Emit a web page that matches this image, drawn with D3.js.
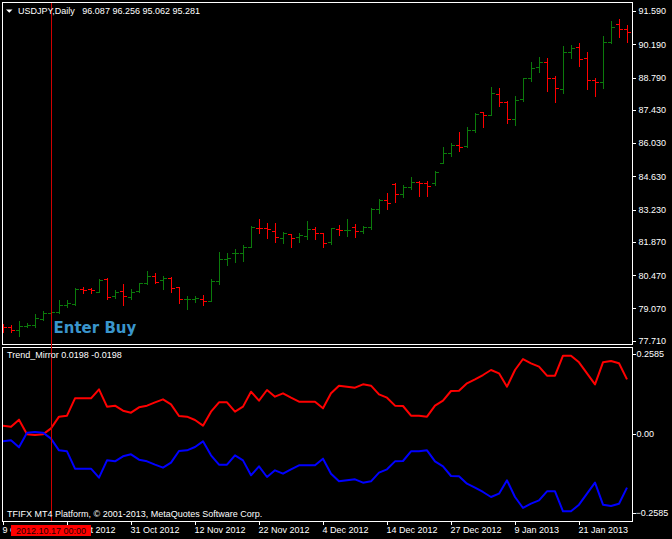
<!DOCTYPE html>
<html>
<head>
<meta charset="utf-8">
<script src="https://cdn.jsdelivr.net/npm/d3@7"></script>
<style>
  html, body { margin: 0; padding: 0; background: #000; }
  svg { display: block; }
  text { font-family: "Liberation Sans", Arial, sans-serif; font-size: 9px; fill: #fff; }
</style>
</head>
<body>
<svg id="chart" width="672" height="539"></svg>
<script>
// --- Data ---
const symbolTitle = "USDJPY,Daily";
const lastQuote = ["96.087", "96.256", "95.062", "95.281"];
const indicatorTitle = "Trend_Mirror 0.0198 -0.0198";
const footerText = "TFIFX MT4 Platform, \u00a9 2001-2013, MetaQuotes Software Corp.";
const signalText = "Enter Buy";
const cursorDate = "2012-10-17";
const cursorLabel = "2012.10.17 00:00";

const dates = [
  "2012-10-09","2012-10-10","2012-10-11","2012-10-12","2012-10-15","2012-10-16","2012-10-17","2012-10-18","2012-10-19",
  "2012-10-22","2012-10-23","2012-10-24","2012-10-25","2012-10-26","2012-10-29","2012-10-30","2012-10-31",
  "2012-11-01","2012-11-02","2012-11-05","2012-11-06","2012-11-07","2012-11-08","2012-11-09","2012-11-12",
  "2012-11-13","2012-11-14","2012-11-15","2012-11-16","2012-11-19","2012-11-20","2012-11-21","2012-11-22",
  "2012-11-23","2012-11-26","2012-11-27","2012-11-28","2012-11-29","2012-11-30","2012-12-03","2012-12-04",
  "2012-12-05","2012-12-06","2012-12-07","2012-12-10","2012-12-11","2012-12-12","2012-12-13","2012-12-14",
  "2012-12-17","2012-12-18","2012-12-19","2012-12-20","2012-12-21","2012-12-24","2012-12-26","2012-12-27",
  "2012-12-28","2012-12-31","2013-01-02","2013-01-03","2013-01-04","2013-01-07","2013-01-08","2013-01-09",
  "2013-01-10","2013-01-11","2013-01-14","2013-01-15","2013-01-16","2013-01-17","2013-01-18","2013-01-21",
  "2013-01-22","2013-01-23","2013-01-24","2013-01-25","2013-01-28","2013-01-29"
];

const opens = [
  78.30,78.27,78.16,78.33,78.37,78.61,78.89,78.93,79.21,79.24,79.90,79.87,79.77,80.29,79.59,79.80,79.53,
  79.80,80.12,80.43,80.26,80.33,79.96,79.45,79.45,79.45,79.39,80.24,81.15,81.39,81.39,81.67,82.47,
  82.44,82.33,82.05,82.19,82.09,82.12,82.41,82.23,81.86,82.43,82.36,82.48,82.31,82.48,83.25,83.63,
  84.31,83.88,84.17,84.38,84.35,84.33,85.20,85.60,85.95,85.90,86.60,87.32,87.20,88.08,87.74,87.03,
  87.87,88.76,89.25,89.43,88.76,88.32,89.85,90.06,89.60,88.69,88.59,90.30,91.04,90.82
];
const highs = [
  78.40,78.37,78.54,78.47,78.83,78.96,78.93,79.42,79.42,79.91,79.96,79.91,80.29,80.33,79.84,80.08,79.90,
  80.15,80.64,80.54,80.43,80.38,79.98,79.59,79.59,79.63,80.29,81.44,81.39,81.56,81.74,82.54,82.82,
  82.65,82.65,82.27,82.20,82.23,82.75,82.48,82.26,82.44,82.58,82.83,82.62,82.54,83.28,83.67,83.94,
  84.33,84.26,84.61,84.43,84.43,84.85,85.85,86.05,86.50,86.70,87.30,87.35,88.38,88.33,87.80,88.01,
  88.76,89.43,89.65,89.60,88.85,90.12,90.16,90.23,89.85,88.76,90.54,91.18,91.25,91.00
];
const lows = [
  78.09,78.09,77.92,78.27,78.30,78.58,78.86,78.89,79.11,79.21,79.70,79.70,79.77,79.45,79.49,79.21,79.48,
  79.77,80.10,80.12,79.90,79.74,79.28,79.03,79.35,79.21,79.38,80.08,80.88,81.04,81.08,81.64,82.26,
  82.02,81.88,81.81,81.64,81.88,82.00,81.98,81.67,81.77,82.16,82.12,82.06,82.26,82.43,83.08,83.25,
  83.56,83.77,84.11,83.80,83.80,84.26,85.18,85.50,85.70,85.85,86.50,86.72,87.20,87.60,86.89,86.79,
  87.81,88.66,89.04,88.24,87.77,88.12,89.60,89.29,88.31,88.01,88.36,90.26,90.51,90.30
];
const closes = [
  78.27,78.16,78.33,78.37,78.65,78.89,78.90,79.21,79.28,79.90,79.84,79.84,80.26,79.56,79.77,79.59,79.77,
  80.12,80.43,80.19,80.36,79.94,79.45,79.48,79.49,79.39,80.24,81.16,81.20,81.41,81.67,82.51,82.44,
  82.41,82.06,82.23,82.05,82.14,82.40,82.26,81.84,82.44,82.36,82.37,82.31,82.48,83.25,83.63,83.49,
  83.88,84.19,84.38,84.33,84.22,84.81,85.60,85.95,85.85,86.60,87.25,87.21,88.12,87.74,87.03,87.84,
  88.76,89.18,89.43,88.76,88.33,89.85,90.02,89.57,88.69,88.61,90.30,90.93,90.82,90.69
];

// Trend_Mirror buffers (upper = red, lower = blue)
const trendUp = [
  0.0255,0.0222,0.0450,-0.0027,-0.0049,-0.0027,0.0168,0.0547,0.0580,0.1143,0.1143,0.1143,0.1436,0.0873,0.0905,0.0742,0.0677,
  0.0851,0.0905,0.1013,0.1111,0.0948,0.0569,0.0547,0.0439,0.0255,0.0710,0.1013,0.1013,0.0710,0.0873,0.1360,0.1068,
  0.1414,0.1198,0.1306,0.1165,0.1035,0.1035,0.1035,0.0818,0.1306,0.1555,0.1523,0.1490,0.1599,0.1555,0.1274,0.1165,
  0.0905,0.0894,0.0580,0.0580,0.0547,0.0905,0.1068,0.1382,0.1393,0.1631,0.1761,0.1902,0.2065,0.1956,0.1523,0.2065,
  0.2422,0.2282,0.2173,0.1880,0.1880,0.2531,0.2531,0.2314,0.1956,0.1599,0.2314,0.2357,0.2282,0.1761
];
const trendDown = [
  -0.0255,-0.0222,-0.0450,0.0027,0.0049,0.0027,-0.0168,-0.0547,-0.0580,-0.1143,-0.1143,-0.1143,-0.1436,-0.0873,-0.0905,-0.0742,-0.0677,
  -0.0851,-0.0905,-0.1013,-0.1111,-0.0948,-0.0569,-0.0547,-0.0439,-0.0255,-0.0710,-0.1013,-0.1013,-0.0710,-0.0873,-0.1360,-0.1068,
  -0.1414,-0.1198,-0.1306,-0.1165,-0.1035,-0.1035,-0.1035,-0.0818,-0.1306,-0.1555,-0.1523,-0.1490,-0.1599,-0.1555,-0.1274,-0.1165,
  -0.0905,-0.0894,-0.0580,-0.0580,-0.0547,-0.0905,-0.1068,-0.1382,-0.1393,-0.1631,-0.1761,-0.1902,-0.2065,-0.1956,-0.1523,-0.2065,
  -0.2422,-0.2282,-0.2173,-0.1880,-0.1880,-0.2531,-0.2531,-0.2314,-0.1956,-0.1599,-0.2314,-0.2357,-0.2282,-0.1761
];

const priceTicks = [91.59, 90.19, 88.79, 87.43, 86.03, 84.63, 83.23, 81.87, 80.47, 79.07, 77.71];
const indTicks = [0.2585, 0, -0.2585];
const dateTicks = ["2012-10-09","2012-10-19","2012-10-31","2012-11-12","2012-11-22",
                   "2012-12-04","2012-12-14","2012-12-27","2013-01-09","2013-01-21"];

// --- Layout ---
const W = 672, H = 539;
const frameL = 2, frameR = 632;
const mainTop = 2, mainBottom = 344;
const indTop = 347, indBottom = 521;

const upColor = "#0b7a0b";
const downColor = "#ff0000";

const svg = d3.select("#chart");
svg.append("rect").attr("width", W).attr("height", H).attr("fill", "#000");

const x = d3.scalePoint().domain(dates).range([3, 627]);
const y = d3.scaleLinear().domain([77.71, 91.59]).range([340.7, 11]);
const yInd = d3.scaleLinear().domain([-0.2585, 0.2585]).range([513, 354]);

const px = v => Math.round(v) + 0.5;

// clip regions for the two panes
const defs = svg.append("defs");
defs.append("clipPath").attr("id", "clipMain").append("rect")
  .attr("x", frameL + 1).attr("y", mainTop + 1)
  .attr("width", frameR - frameL - 1).attr("height", mainBottom - mainTop - 1);
defs.append("clipPath").attr("id", "clipInd").append("rect")
  .attr("x", frameL + 1).attr("y", indTop + 1)
  .attr("width", frameR - frameL - 1).attr("height", indBottom - indTop - 1);

// --- OHLC bars ---
const bars = svg.append("g")
  .attr("clip-path", "url(#clipMain)")
  .attr("shape-rendering", "crispEdges");

const bar = bars.selectAll("g.bar")
  .data(dates.map((d, i) => ({ d, o: opens[i], h: highs[i], l: lows[i], c: closes[i] })))
  .join("g")
  .attr("class", "bar")
  .attr("stroke", b => b.c >= b.o ? upColor : downColor)
  .attr("stroke-width", 1);

bar.append("line")
  .attr("x1", b => px(x(b.d))).attr("x2", b => px(x(b.d)))
  .attr("y1", b => Math.round(y(b.h))).attr("y2", b => Math.round(y(b.l)) + 1);
bar.append("line")
  .attr("x1", b => Math.round(x(b.d)) - 3).attr("x2", b => Math.round(x(b.d)))
  .attr("y1", b => px(y(b.o))).attr("y2", b => px(y(b.o)));
bar.append("line")
  .attr("x1", b => Math.round(x(b.d)) + 1).attr("x2", b => Math.round(x(b.d)) + 4)
  .attr("y1", b => px(y(b.c))).attr("y2", b => px(y(b.c)));

// --- Indicator lines ---
const line = d3.line()
  .x((v, i) => x(dates[i]))
  .y(v => yInd(v));

const ind = svg.append("g").attr("clip-path", "url(#clipInd)");
ind.append("path").datum(trendUp)
  .attr("d", line).attr("fill", "none")
  .attr("stroke", "#ff0000").attr("stroke-width", 2).attr("stroke-linejoin", "round");
ind.append("path").datum(trendDown)
  .attr("d", line).attr("fill", "none")
  .attr("stroke", "#0000ff").attr("stroke-width", 2).attr("stroke-linejoin", "round");

// --- Pane frames ---
const frames = svg.append("g").attr("fill", "none").attr("stroke", "#fff")
  .attr("shape-rendering", "crispEdges");
frames.append("rect").attr("x", frameL + 0.5).attr("y", mainTop + 0.5)
  .attr("width", frameR - frameL).attr("height", mainBottom - mainTop);
frames.append("rect").attr("x", frameL + 0.5).attr("y", indTop + 0.5)
  .attr("width", frameR - frameL).attr("height", indBottom - indTop);

// --- Price axis (main pane) ---
const yAxis = svg.append("g")
  .attr("transform", `translate(${frameR + 0.5},0)`)
  .call(d3.axisRight(y).tickValues(priceTicks).tickSize(3).tickFormat(d3.format(".3f")));
yAxis.select(".domain").remove();
yAxis.selectAll(".tick line").attr("stroke", "#fff").attr("shape-rendering", "crispEdges");
yAxis.selectAll(".tick text").attr("x", 6).attr("fill", "#fff")
  .style("font-family", null).style("font-size", null);
yAxis.attr("font-family", null).attr("font-size", null);

// --- Indicator axis ---
const indAxis = svg.append("g")
  .attr("transform", `translate(${frameR + 0.5},0)`)
  .call(d3.axisRight(yInd).tickValues(indTicks).tickSize(3)
    .tickFormat(d => d === 0 ? "0.00" : d3.format(".4f")(d)));
indAxis.select(".domain").remove();
indAxis.selectAll(".tick line").attr("stroke", "#fff").attr("shape-rendering", "crispEdges");
indAxis.selectAll(".tick text").attr("x", d => d < 0 ? 3 : 4).attr("fill", "#fff");
indAxis.attr("font-family", null).attr("font-size", null);

// --- Time axis ---
const parse = d3.timeParse("%Y-%m-%d");
const fmt = d3.timeFormat("%-d %b %Y");
const xAxis = svg.append("g")
  .attr("transform", `translate(0,${indBottom + 0.5})`)
  .call(d3.axisBottom(x).tickValues(dateTicks).tickSize(3).tickFormat(d => fmt(parse(d))));
xAxis.select(".domain").remove();
xAxis.selectAll(".tick line").attr("stroke", "#fff").attr("shape-rendering", "crispEdges");
xAxis.selectAll(".tick text")
  .attr("text-anchor", "start").attr("x", -1).attr("y", 5).attr("fill", "#fff");
xAxis.attr("font-family", null).attr("font-size", null);

// --- Crosshair ---
const cx = px(x(cursorDate));
svg.append("line")
  .attr("x1", cx).attr("x2", cx).attr("y1", mainTop + 1).attr("y2", indBottom)
  .attr("stroke", "#d00000").attr("stroke-width", 1)
  .attr("shape-rendering", "crispEdges");
svg.append("rect")
  .attr("x", x(cursorDate) - 40).attr("y", 525).attr("width", 80).attr("height", 11)
  .attr("fill", "#ff0000");
svg.append("text")
  .attr("x", x(cursorDate)).attr("y", 533.5).attr("text-anchor", "middle")
  .style("fill", "#200000")
  .text(cursorLabel);

// --- Labels ---
svg.append("path")
  .attr("d", "M6,9.5 L12.5,9.5 L9.25,12.8 Z").attr("fill", "#fff");
svg.append("text")
  .attr("x", 18).attr("y", 14.3)
  .style("white-space", "pre")
  .text(symbolTitle + "   " + lastQuote.join(" "));

svg.append("text")
  .attr("x", 7).attr("y", 358.3)
  .text(indicatorTitle);

svg.append("text")
  .attr("x", 7).attr("y", 517.3)
  .text(footerText);

svg.append("text")
  .attr("x", 53.5).attr("y", 332.5)
  .style("font-family", "'DejaVu Sans', Verdana, sans-serif")
  .style("font-size", "15px").style("font-weight", "bold")
  .style("fill", "#3a95cc")
  .text(signalText);
</script>
</body>
</html>
